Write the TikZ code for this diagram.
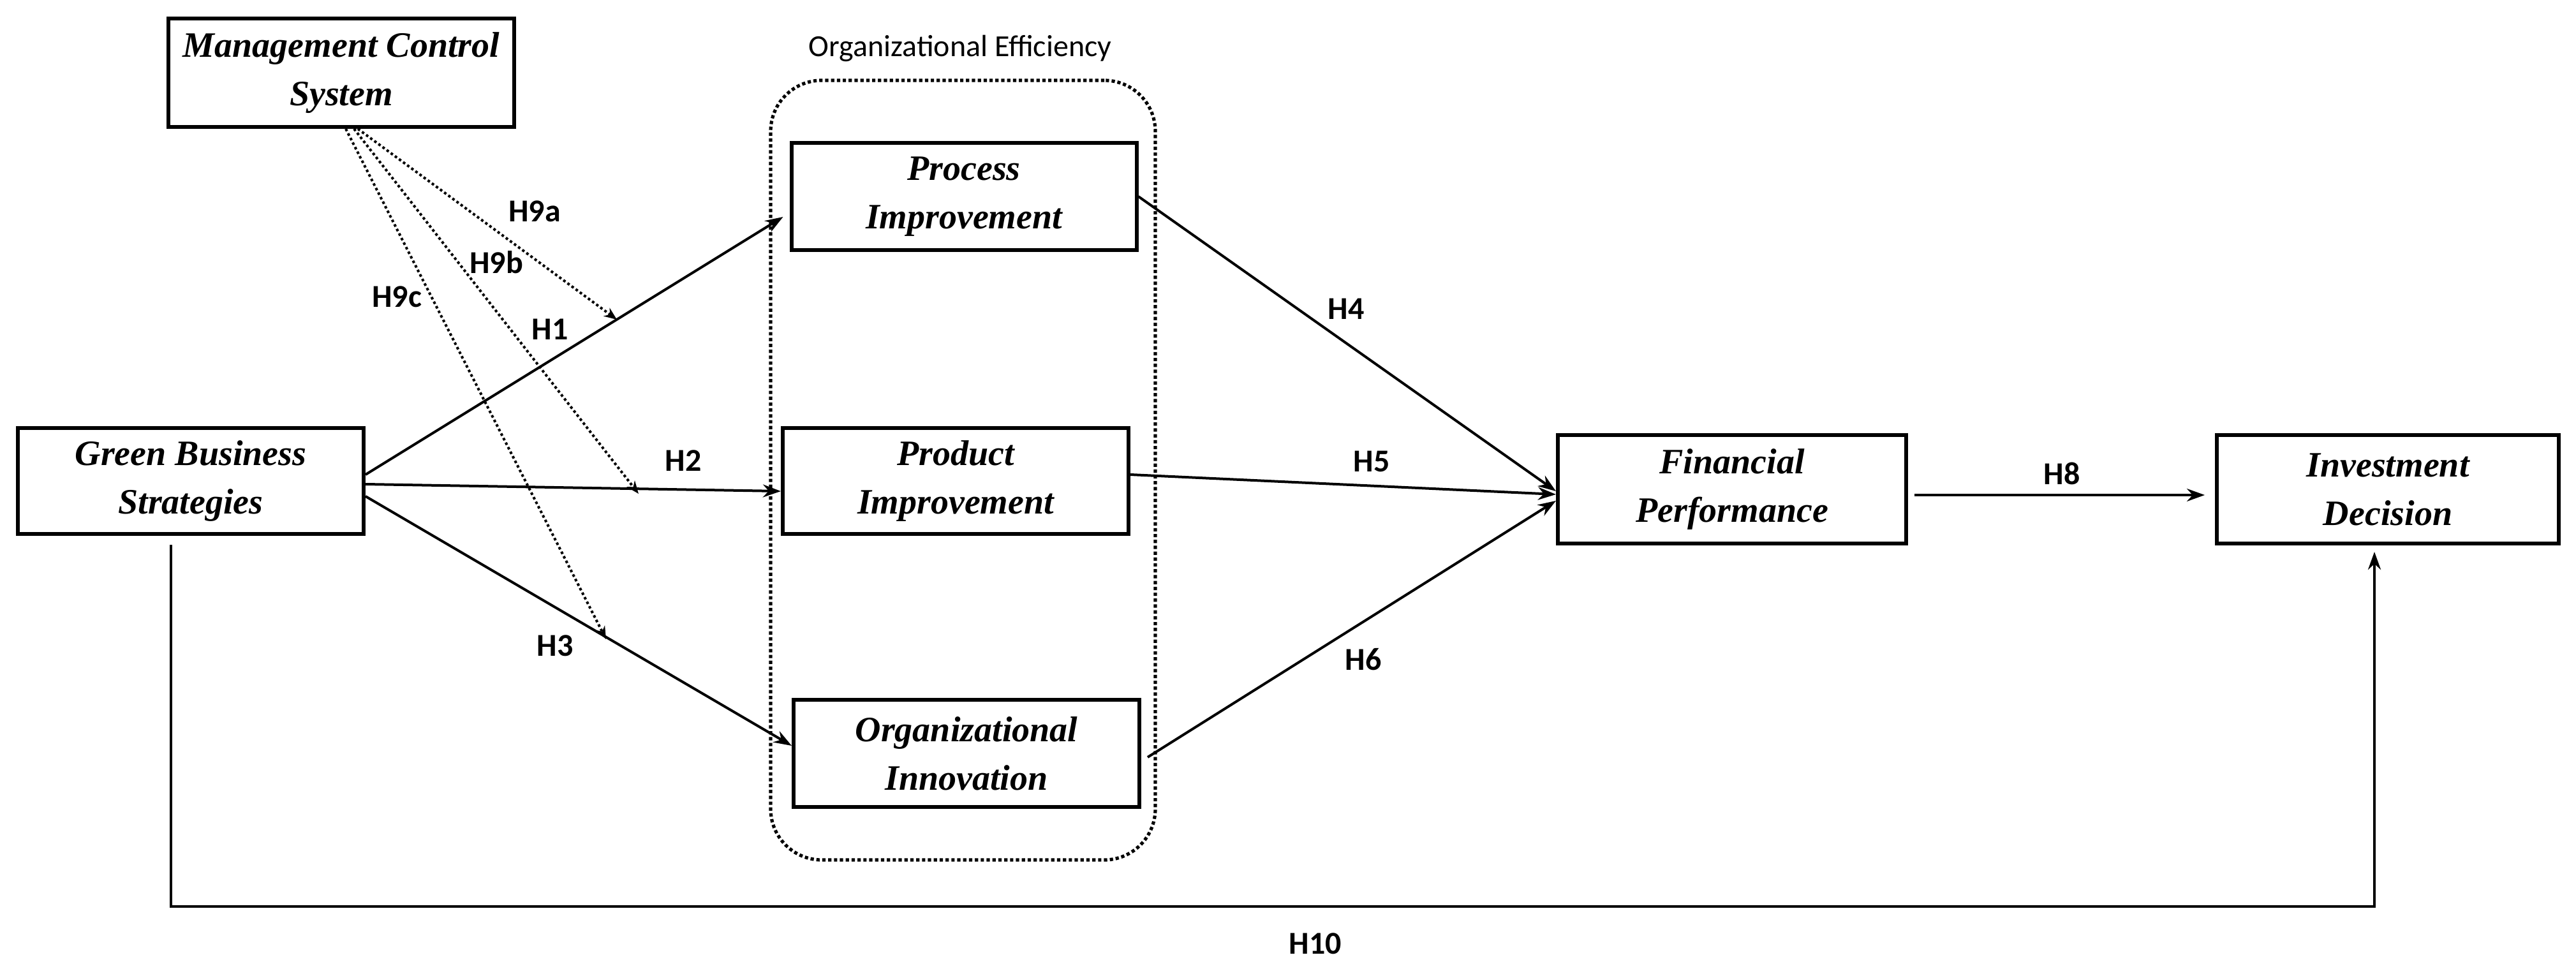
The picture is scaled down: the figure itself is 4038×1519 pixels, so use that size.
\documentclass[tikz,border=0pt]{standalone}
\usepackage{fontspec}
\setmainfont{Liberation Serif}
\newfontfamily\lab{Carlito}
\usetikzlibrary{arrows.meta}
\begin{document}
\begin{tikzpicture}[x=0.25pt,y=-0.25pt,
  box/.style={draw,line width=1.5pt,align=center,inner sep=0pt,font=\fontsize{14}{19}\selectfont\bfseries\itshape},
  arr/.style={line width=1pt,-{Stealth[length=7pt,width=5pt]}},
  darr/.style={line width=1pt,densely dotted,-{Stealth[length=5pt,width=4pt]}},
  hl/.style={font=\lab\bfseries\fontsize{12.5}{14}\selectfont}]
\useasboundingbox (0,0) rectangle (4038,1519);
\node[draw,densely dotted,line width=1.3pt,rounded corners=20pt,minimum width=150.75pt,minimum height=305.5pt] (eff) at (1509.5,737) {};
\node[font=\lab\fontsize{12}{14}\selectfont] (efft) at (1505,76) {Organizational Efficiency};
\node[box,minimum width=135.5pt,minimum height=42.5pt] (mcs) at (535,114) {Management Control\\System};
\node[box,minimum width=135.5pt,minimum height=41.5pt] (gbs) at (299,754) {Green Business\\Strategies};
\node[box,minimum width=135.25pt,minimum height=42pt] (proc) at (1511,308) {Process\\Improvement};
\node[box,minimum width=135.5pt,minimum height=41.5pt] (prod) at (1498,754) {Product\\Improvement};
\node[box,minimum width=135.5pt,minimum height=42pt] (org) at (1515,1181) {Organizational\\Innovation};
\node[box,minimum width=136.5pt,minimum height=42.5pt] (fin) at (2715,767) {Financial\\Performance};
\node[box,minimum width=134pt,minimum height=42.5pt] (inv) at (3743,767) {Investment\\Decision};
% main arrows
\draw[arr] ([yshift=2.5pt]gbs.east) -- ([xshift=-2.5pt,yshift=-8pt]proc.west);
\draw[arr] ([yshift=-1.25pt]gbs.east) -- ([yshift=-4pt]prod.west);
\draw[arr] ([yshift=-6pt]gbs.east) -- ([yshift=3pt]org.west);
\draw[arr] (proc.east) -- ([yshift=-0.75pt]fin.west);
\draw[arr] ([yshift=2.5pt]prod.east) -- ([yshift=-2pt]fin.west);
\draw[arr] ([xshift=2.5pt,yshift=-1.5pt]org.east) -- ([yshift=-4.5pt]fin.west);
\draw[arr,shorten <=2.5pt,shorten >=4pt] ([yshift=-2.25pt]fin.east) -- ([yshift=-2.25pt]inv.west);
\coordinate (bot) at (2000,1421);
\draw[arr] ([xshift=-7.75pt,yshift=-3.5pt]gbs.south) |- (bot) -| ([xshift=-5.25pt,yshift=-2.5pt]inv.south);
% moderating
\coordinate (e9a) at (967,501);
\coordinate (e9b) at (1001,774);
\coordinate (e9c) at (950,1002);
\draw[darr] ([xshift=6.5pt]mcs.south) -- (e9a);
\draw[darr] ([xshift=5pt]mcs.south) -- (e9b);
\draw[darr] ([xshift=1.75pt]mcs.south) -- (e9c);
% labels
\node[hl] (l9a) at (838,331) {H9a};
\node[hl] (l9b) at (778,411) {H9b};
\node[hl] (l9c) at (622,465) {H9c};
\node[hl] (l1) at (862,516) {H1};
\node[hl] (l2) at (1071,722) {H2};
\node[hl] (l3) at (870,1012) {H3};
\node[hl] (l4) at (2110,484) {H4};
\node[hl] (l5) at (2150,723) {H5};
\node[hl] (l6) at (2137,1034) {H6};
\node[hl] (l8) at (3232,742) {H8};
\node[hl] (l10) at (2062,1479) {H10};
\end{tikzpicture}
\end{document}
